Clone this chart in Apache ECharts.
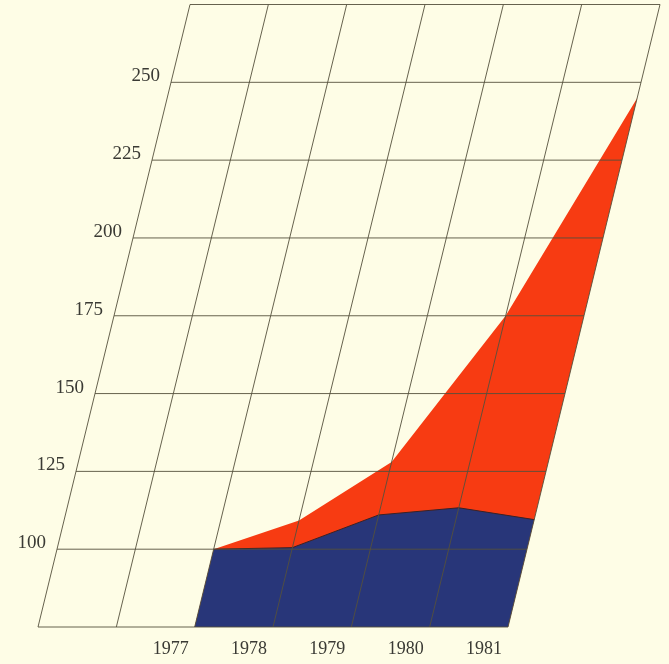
<!DOCTYPE html>
<html>
<head>
<meta charset="utf-8">
<script src="https://cdn.jsdelivr.net/npm/echarts@6/dist/echarts.min.js"></script>
<style>
  html, body { margin: 0; padding: 0; background: #fefde6; }
  #chart { width: 669px; height: 664px; }
</style>
</head>
<body>
<div id="chart"></div>
<script>
const years = [1977, 1978, 1979, 1980, 1981]
const totalValues = [100, 109.2, 128, 175, 245]
const baseValues = [100, 100.5, 111, 113.3, 109.5]
const yTicks = [75, 100, 125, 150, 175, 200, 225, 250, 275]
const yLabels = [100, 125, 150, 175, 200, 225, 250]
const xTicks = [1975, 1976, 1977, 1978, 1979, 1980, 1981]

const X_MIN = 1975, X_MAX = 1981, Y_MIN = 75, Y_MAX = 275
const SLANT = 0.2442 // sideways shift per pixel of height
const LINE = '#55503c'
const FONT = '"Liberation Serif", "DejaVu Serif", serif'

const chart = echarts.init(document.getElementById('chart'))

// move a data point right in proportion to its height above the base line
const skew = (api, pt) => {
  const p = api.coord(pt)
  const base = api.coord([X_MIN, Y_MIN])[1]
  return [p[0] + (base - p[1]) * SLANT, p[1]]
}

const areaItem = (values, color, edge) => (params, api) => {
  if (params.dataIndex !== 0) return null
  const top = years.map((yr, i) => skew(api, [yr, values[i]]))
  const pts = top.concat([
    skew(api, [years[years.length - 1], Y_MIN]),
    skew(api, [years[0], Y_MIN])
  ])
  const children = [{ type: 'polygon', shape: { points: pts }, style: { fill: color } }]
  if (edge) {
    children.push({ type: 'polyline', shape: { points: top }, style: { stroke: edge, lineWidth: 1, fill: null } })
  }
  return { type: 'group', children }
}

chart.setOption({
  backgroundColor: '#fefde6',
  animation: false,
  grid: { left: 38, right: 161, top: 4.5, bottom: 37, outerBoundsMode: 'none' },
  xAxis: {
    type: 'value',
    min: X_MIN,
    max: X_MAX,
    interval: 1,
    axisLine: { show: false },
    axisTick: { show: false },
    splitLine: { show: false },
    axisLabel: {
      margin: 13,
      align: 'right',
      padding: [0, 6, 0, 0],
      color: '#3a3a34',
      fontFamily: FONT,
      fontSize: 18,
      formatter: v => (years.includes(v) ? String(v) : '')
    }
  },
  yAxis: {
    type: 'value',
    min: Y_MIN,
    max: Y_MAX,
    interval: 25,
    show: false
  },
  series: [
    {
      type: 'custom',
      z: 1,
      clip: false,
      data: years.map((yr, i) => [yr, totalValues[i]]),
      renderItem: areaItem(totalValues, '#f73b12')
    },
    {
      type: 'custom',
      z: 2,
      clip: false,
      data: years.map((yr, i) => [yr, baseValues[i]]),
      renderItem: areaItem(baseValues, '#283679', '#3a2226')
    },
    {
      type: 'custom',
      z: 3,
      clip: false,
      data: yTicks.map(v => [X_MIN, v]),
      renderItem: (params, api) => {
        const v = api.value(1)
        const a = skew(api, [X_MIN, v])
        const b = skew(api, [X_MAX, v])
        return { type: 'line', shape: { x1: a[0], y1: a[1], x2: b[0], y2: b[1] }, style: { stroke: LINE, lineWidth: 0.9 } }
      }
    },
    {
      type: 'custom',
      z: 3,
      clip: false,
      data: xTicks.map(x => [x, Y_MIN]),
      renderItem: (params, api) => {
        const x = api.value(0)
        const a = skew(api, [x, Y_MIN])
        const b = skew(api, [x, Y_MAX])
        return { type: 'line', shape: { x1: a[0], y1: a[1], x2: b[0], y2: b[1] }, style: { stroke: LINE, lineWidth: 0.9 } }
      }
    },
    {
      type: 'custom',
      z: 4,
      clip: false,
      data: yLabels.map(v => [X_MIN, v]),
      renderItem: (params, api) => {
        const v = api.value(1)
        const p = skew(api, [X_MIN, v])
        return {
          type: 'text',
          x: p[0] - 11,
          y: p[1] - 6,
          style: {
            text: String(v),
            fill: '#3a3a34',
            font: '19px ' + FONT,
            align: 'right',
            verticalAlign: 'middle',
            textAlign: 'right',
            textVerticalAlign: 'middle'
          }
        }
      }
    }
  ]
})
</script>
</body>
</html>
